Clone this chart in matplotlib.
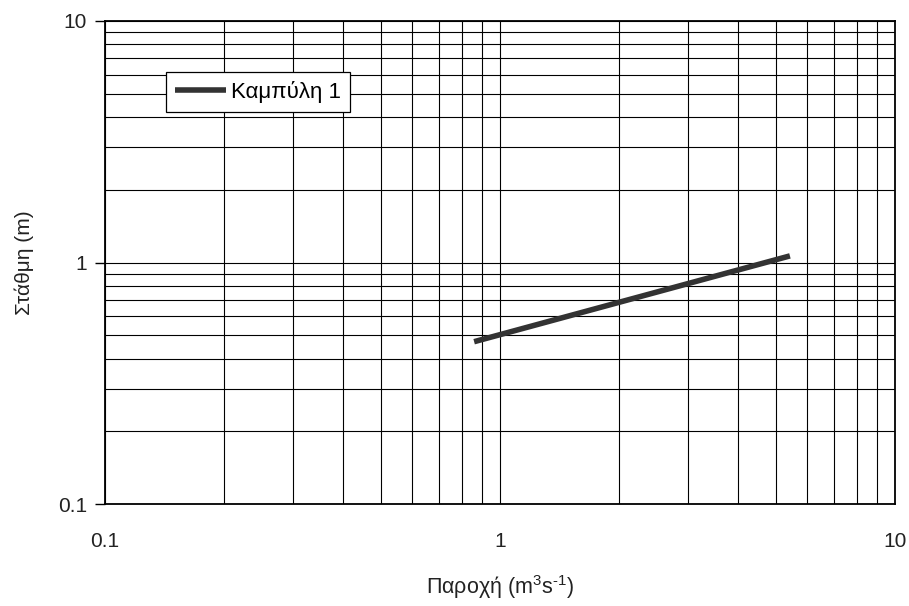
import matplotlib
matplotlib.use("Agg")
import matplotlib.pyplot as plt

# rating curve endpoints
discharge = [0.86, 5.42]
stage = [0.47, 1.065]
series_label = "Καμπύλη 1"
tick_vals = [0.1, 1, 10]
tick_text = ["0.1", "1", "10"]

plt.rcParams['font.family'] = ['Liberation Sans', 'DejaVu Sans']
plt.rcParams['mathtext.fontset'] = 'custom'
plt.rcParams['mathtext.rm'] = 'Liberation Sans'
plt.rcParams['mathtext.it'] = 'Liberation Sans'

fig = plt.figure(figsize=(9.09, 6.06), dpi=100)
ax = fig.add_axes([105 / 909, 1 - 504 / 606, 790 / 909, 483 / 606])

ax.plot(discharge, stage, color="#333333", lw=4, label=series_label,
        solid_capstyle="butt")
ax.set_xscale("log")
ax.set_yscale("log")
ax.set_xlim(0.1, 10)
ax.set_ylim(0.1, 10)

ax.grid(True, which="both", color="black", lw=0.8)
ax.set_axisbelow(True)
for s in ax.spines.values():
    s.set_linewidth(1.3)

ax.set_xticks(tick_vals)
ax.set_xticklabels(tick_text)
ax.set_yticks(tick_vals)
ax.set_yticklabels(tick_text)
ax.tick_params(axis="both", which="minor", length=0)
ax.tick_params(axis="x", which="major", length=0, pad=20, labelsize=15,
               labelcolor="#222222")
ax.tick_params(axis="y", which="major", length=7, width=1, pad=6, labelsize=15,
               labelcolor="#222222")

ax.set_xlabel("Παροχή (m$^3$s$^{\\text{-}1}$)", fontsize=15.5, labelpad=16,
              color="#222222")
ax.set_ylabel("Στάθμη (m)", fontsize=15, labelpad=17, color="#222222")

leg = ax.legend(loc="upper left", bbox_to_anchor=(0.077, 0.894), fontsize=16,
                fancybox=False, framealpha=1, edgecolor="black",
                handlelength=2.3, handletextpad=0.25, borderpad=0.4,
                borderaxespad=0)
leg.get_frame().set_linewidth(0.9)

fig.savefig("out.png", dpi=100)
